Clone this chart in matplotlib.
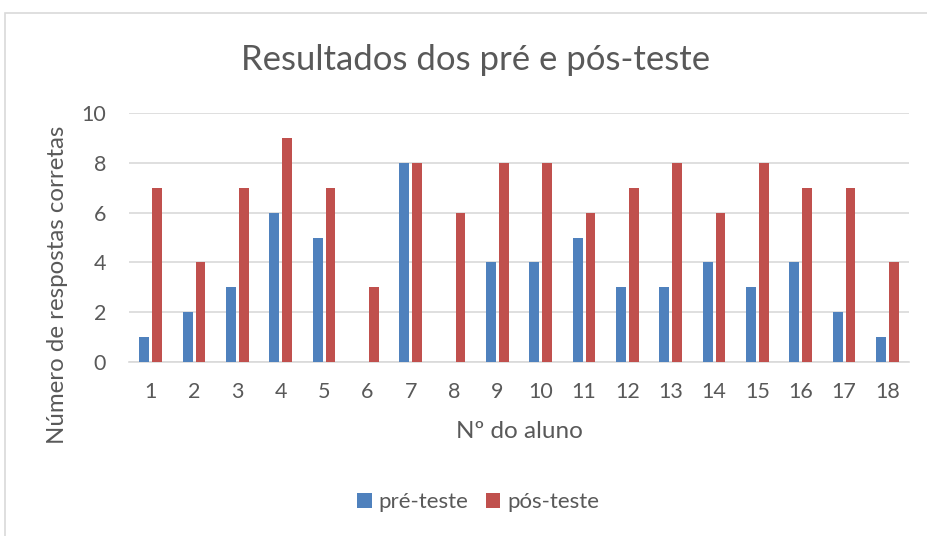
import matplotlib
matplotlib.use("Agg")
import matplotlib.pyplot as plt
from matplotlib.patches import Rectangle
import numpy as np

plt.rcParams['font.family'] = ['Lato', 'DejaVu Sans']

alunos = [str(i) for i in range(1, 19)]
pre_teste = [1, 2, 3, 6, 5, 0, 8, 0, 4, 4, 5, 3, 3, 4, 3, 4, 2, 1]
pos_teste = [7, 4, 7, 9, 7, 3, 8, 6, 8, 8, 6, 7, 8, 6, 8, 7, 7, 4]

txt = '#595959'
fig = plt.figure(figsize=(9.28, 5.36), dpi=100)
fig.patches.append(Rectangle((5/928, -0.1), 1.2, 1 - 13/536 + 0.1, transform=fig.transFigure,
                             fill=False, edgecolor='#d9d9d9', linewidth=1.2))
ax = fig.add_axes([129/928, 1 - 362/536, 780/928, 249/536])
x = np.arange(1, 19)
w = 0.23
ax.bar(x - 0.145, pre_teste, w, color='#4f81bd', label='pré-teste', zorder=3)
ax.bar(x + 0.15, pos_teste, w, color='#c0504d', label='pós-teste', zorder=3)
ax.set_xlim(0.5, 18.5)
ax.set_ylim(0, 10)
ax.set_yticks(range(0, 11, 2))
ax.set_xticks(x)
ax.set_xticklabels(alunos)
ax.yaxis.grid(True, color='#d9d9d9', linewidth=1.2, zorder=0)
for s in ['top', 'right', 'left']:
    ax.spines[s].set_visible(False)
ax.spines['bottom'].set_color('#d9d9d9')
ax.spines['bottom'].set_linewidth(1.2)
ax.tick_params(axis='both', length=0, labelsize=15.5, colors=txt)
ax.tick_params(axis='y', pad=16.5)
ax.tick_params(axis='x', pad=14.5)
fig.text(519/928, 1 - 432/536, 'Nº do aluno', ha='center', va='center',
         fontsize=17.5, color=txt)
fig.text(58/928, 1 - 285/536, 'Número de respostas corretas', ha='center', va='center',
         rotation=90, fontsize=17.3, color=txt)
fig.text(0.512, 1 - 60/536, 'Resultados dos pré e pós-teste', ha='center', va='center',
         fontsize=25, color=txt)
fig.legend(loc='center', bbox_to_anchor=(478/928, 1 - 502/536), ncol=2, frameon=False,
           fontsize=16, labelcolor=txt, handlelength=0.65, handleheight=0.65,
           columnspacing=0.8, handletextpad=0.3)
fig.savefig('out.png', dpi=100)
